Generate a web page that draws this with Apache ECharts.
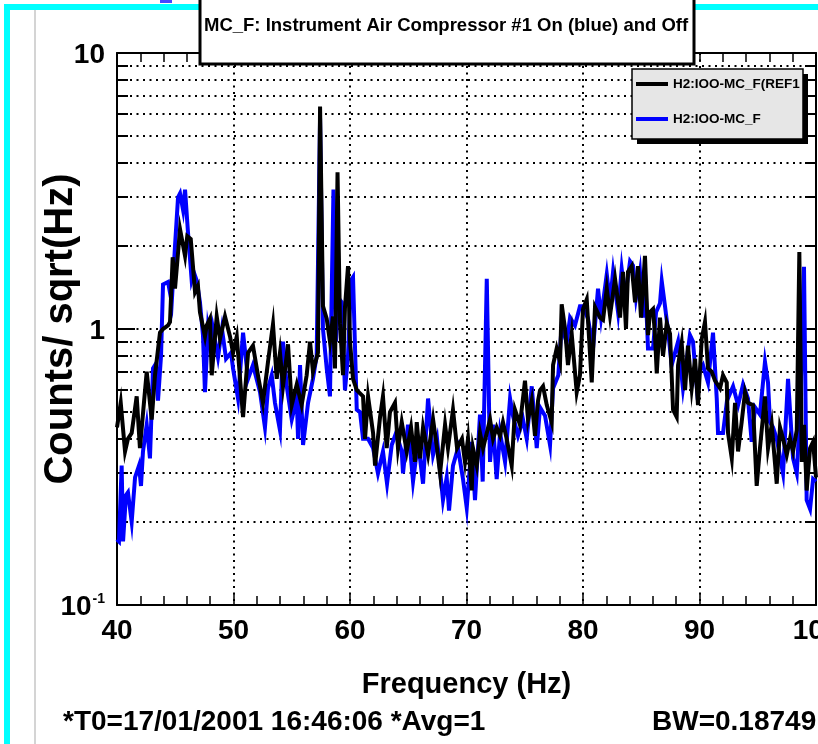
<!DOCTYPE html>
<html>
<head>
<meta charset="utf-8">
<script src="https://cdn.jsdelivr.net/npm/echarts@6/dist/echarts.min.js"></script>
<style>
  html, body { margin: 0; padding: 0; background: #fff; }
  #chart { width: 818px; height: 744px; }
</style>
</head>
<body>
<div id="chart"></div>
<script>
// Reference spectrum (compressor off)
const freqRef = [40.0,40.32,40.69,40.94,41.26,41.69,41.97,42.26,42.55,42.98,
  43.26,43.69,43.95,44.38,44.55,44.78,44.98,45.41,45.84,46.03,
  46.33,46.70,46.95,47.12,47.55,47.70,47.98,48.13,48.56,48.84,
  49.27,49.70,49.96,50.28,50.82,51.25,51.67,52.10,52.53,52.96,
  53.39,53.71,53.99,54.25,54.68,55.00,55.43,55.85,56.28,56.57,
  56.82,57.25,57.43,57.68,58.00,58.28,58.54,58.71,58.93,59.14,
  59.40,59.57,59.83,60.00,60.26,60.58,61.12,61.29,61.55,61.98,
  62.15,62.58,62.83,63.15,63.43,63.86,64.12,64.44,64.87,65.24,
  65.58,65.73,66.01,66.27,66.70,67.13,67.47,67.73,68.16,68.41,
  68.84,69.19,69.61,69.87,70.13,70.45,70.56,70.88,71.16,71.42,
  71.74,72.02,72.28,72.59,72.88,73.13,73.45,73.88,74.16,74.59,
  75.02,75.28,75.60,75.88,76.14,76.31,76.57,76.89,77.31,77.43,
  77.74,78.03,78.17,78.46,78.71,79.03,79.46,79.74,80.00,80.32,
  80.75,81.03,81.46,81.72,82.04,82.32,82.75,83.18,83.43,83.69,
  83.86,84.18,84.47,84.72,84.98,85.32,85.58,85.75,86.01,86.18,
  86.33,86.61,86.87,87.19,87.47,87.73,88.04,88.16,88.47,88.76,
  89.01,89.33,89.62,89.87,90.19,90.47,90.73,91.05,91.33,91.76,
  92.02,92.34,92.45,92.77,93.05,93.31,93.62,93.91,94.16,94.59,
  94.91,95.19,95.62,95.88,96.20,96.63,96.91,97.17,97.49,97.77,
  98.03,98.35,98.57,98.78,98.97,99.20,99.49,99.75,100.0];
const ampRef = [0.44,0.54,0.36,0.40,0.42,0.57,0.37,0.51,0.70,0.47,
  0.68,0.97,1.00,1.03,1.06,1.82,1.40,2.30,1.84,2.17,
  2.12,1.36,1.43,1.15,0.94,1.03,1.09,0.68,1.11,0.92,
  1.11,0.94,0.82,0.94,0.48,0.82,0.87,0.68,0.54,0.76,
  1.04,0.66,0.82,0.62,0.88,0.53,0.63,0.53,0.68,0.90,
  0.70,0.82,6.4,1.21,1.09,0.90,1.11,0.72,3.7,1.05,
  0.68,1.20,1.69,0.90,0.66,0.60,0.57,0.40,0.57,0.42,
  0.32,0.48,0.57,0.37,0.50,0.54,0.37,0.46,0.36,0.44,
  0.33,0.46,0.34,0.44,0.35,0.47,0.37,0.30,0.45,0.37,
  0.51,0.37,0.40,0.33,0.40,0.26,0.37,0.32,0.42,0.37,
  0.42,0.47,0.40,0.44,0.41,0.46,0.40,0.32,0.51,0.45,
  0.65,0.47,0.55,0.41,0.55,0.60,0.62,0.53,0.46,0.74,
  0.85,0.76,1.23,1.00,0.74,0.96,0.59,0.68,1.18,1.28,
  0.64,1.20,1.10,1.08,1.40,1.12,1.52,1.10,1.61,1.00,
  1.61,1.69,1.25,1.69,1.10,1.84,0.95,1.15,1.18,0.95,
  0.69,1.10,0.80,1.05,0.96,0.51,0.48,0.74,0.89,0.60,
  0.87,0.61,0.78,0.53,0.92,1.06,0.72,0.70,0.65,0.61,
  0.68,0.64,0.42,0.34,0.54,0.36,0.46,0.59,0.54,0.53,
  0.27,0.37,0.57,0.37,0.45,0.275,0.44,0.40,0.35,0.40,
  0.36,0.43,1.90,0.33,0.45,0.26,0.37,0.39,0.29];

// Current spectrum (compressor on)
const freqOn = [40.0,40.17,40.40,40.52,40.77,40.94,41.26,41.55,41.89,42.06,
  42.23,42.55,42.83,43.09,43.35,43.52,43.78,43.95,44.38,44.70,
  44.98,45.24,45.41,45.67,45.84,46.09,46.41,46.61,46.84,47.12,
  47.38,47.55,47.81,48.07,48.24,48.67,49.01,49.36,49.79,49.96,
  50.39,50.82,51.25,51.67,52.28,52.70,52.96,53.28,53.56,53.99,
  54.25,54.57,55.00,55.43,55.54,55.71,55.97,56.40,56.82,57.14,
  57.43,57.68,58.00,58.28,58.58,58.80,58.97,59.29,59.57,59.83,
  60.09,60.26,60.58,60.86,61.12,61.55,61.98,62.40,62.83,63.18,
  63.58,63.95,64.44,64.55,64.98,65.41,65.84,66.27,66.70,67.13,
  67.47,67.98,68.30,68.50,68.84,69.27,69.70,70.02,70.45,70.73,
  71.16,71.39,71.74,72.02,72.28,72.59,72.88,73.31,73.74,73.99,
  74.42,74.85,75.17,75.60,76.03,76.31,76.74,77.17,77.43,77.88,
  78.17,78.60,78.89,79.31,79.74,80.00,80.43,80.86,81.29,81.55,
  82.04,82.32,82.58,83.01,83.32,83.61,84.04,84.29,84.55,84.89,
  85.15,85.32,85.58,86.01,86.27,86.61,86.76,87.04,87.32,87.61,
  88.16,88.58,89.18,89.44,89.76,90.04,90.30,90.73,91.16,91.48,
  91.59,92.02,92.36,92.88,93.31,93.74,94.16,94.48,94.77,95.19,
  95.62,95.88,96.05,96.31,96.63,97.17,97.60,98.03,98.35,98.63,
  98.97,99.20,99.49,99.75,100.0];
const ampOn = [0.173,0.17,0.32,0.17,0.25,0.256,0.20,0.29,0.32,0.27,
  0.36,0.45,0.34,0.72,0.75,0.55,0.80,1.45,1.48,1.25,
  2.00,3.00,3.10,2.70,3.20,2.25,1.50,1.60,1.50,1.25,
  0.95,0.59,1.00,0.85,1.00,0.79,1.00,0.78,0.82,0.72,
  0.56,0.97,0.66,0.74,0.59,0.44,0.61,0.68,0.54,0.43,
  0.90,0.62,0.47,0.56,0.40,0.74,0.38,0.54,0.66,0.80,
  5.8,1.00,0.72,0.57,3.20,0.90,1.30,1.25,0.60,0.80,
  1.50,1.54,0.51,0.50,0.40,0.40,0.37,0.30,0.36,0.275,
  0.38,0.42,0.36,0.30,0.45,0.28,0.39,0.275,0.56,0.35,
  0.40,0.24,0.29,0.22,0.32,0.37,0.286,0.225,0.39,0.24,
  0.49,0.28,1.52,0.33,0.45,0.286,0.42,0.33,0.56,0.485,
  0.41,0.47,0.40,0.62,0.37,0.52,0.485,0.38,0.61,0.68,
  1.03,0.89,1.10,1.03,1.21,1.21,1.09,0.85,1.40,1.10,
  1.58,1.25,1.61,1.15,1.65,1.30,1.76,1.70,1.30,1.61,
  1.10,1.60,0.85,0.85,1.15,1.24,1.49,1.21,0.97,0.74,
  0.90,0.61,0.95,0.90,0.62,0.71,0.74,0.64,0.97,0.56,
  0.42,0.42,0.55,0.62,0.53,0.63,0.56,0.39,0.52,0.49,
  0.76,0.64,0.46,0.44,0.40,0.30,0.66,0.34,0.30,0.50,
  1.68,0.24,0.223,0.286,0.28];

// Axis ranges and the intermediate decade lines of the log axis
const freqRange = [40, 100];
const ampRange = [0.1, 10];
const ampMinorTicks = [0.2,0.3,0.4,0.5,0.6,0.7,0.8,0.9,2,3,4,5,6,7,8,9];

const nameRef = 'H2:IOO-MC_F(REF1';
const nameOn = 'H2:IOO-MC_F';
const titleText = 'MC_F: Instrument Air Compressor #1 On (blue) and Off';
const footLeft = '*T0=17/01/2001 16:46:06 *Avg=1';
const footRight = 'BW=0.18749';

const FONT = "'Liberation Sans', Arial, Helvetica, sans-serif";
const dotted = [2, 4.5];

const zip = (xs, ys) => xs.map((x, i) => [x, ys[i]]);

const chart = echarts.init(document.getElementById('chart'), null, { renderer: 'canvas' });

const frameLine = { show: true, onZero: false, lineStyle: { color: '#000', width: 2 } };

const option = {
  animation: false,
  backgroundColor: '#fff',
  grid: { left: 117, right: 2, top: 53, bottom: 139, containLabel: false, outerBoundsMode: 'none' },
  xAxis: [
    {
      type: 'value', min: freqRange[0], max: freqRange[1], interval: 10, position: 'bottom',
      axisLine: frameLine,
      axisTick: { show: true, inside: true, length: 11, lineStyle: { color: '#000', width: 1.5 } },
      minorTick: { show: true, splitNumber: 5, length: 9, lineStyle: { color: '#000', width: 1.5 } },
      axisLabel: { color: '#000', fontFamily: FONT, fontWeight: 'bold', fontSize: 28, margin: 12,
                   hideOverlap: false },
      splitLine: { show: true, lineStyle: { color: '#000', width: 2, type: dotted } },
      name: 'Frequency (Hz)', nameLocation: 'middle', nameGap: 65, nameMoveOverlap: false,
      nameTextStyle: { color: '#000', fontFamily: FONT, fontWeight: 'bold', fontSize: 29 }
    },
    {
      type: 'value', min: freqRange[0], max: freqRange[1], interval: 10, position: 'top',
      axisLine: frameLine,
      axisTick: { show: true, inside: true, length: 9, lineStyle: { color: '#000', width: 1.5 } },
      minorTick: { show: true, splitNumber: 5, length: 9, lineStyle: { color: '#000', width: 1.5 } },
      axisLabel: { show: false },
      splitLine: { show: false }
    }
  ],
  yAxis: [
    {
      type: 'log', logBase: 10, min: ampRange[0], max: ampRange[1], position: 'left',
      axisLine: frameLine,
      axisTick: { show: true, inside: true, length: 18, lineStyle: { color: '#000', width: 2 } },
      axisLabel: {
        color: '#000', fontFamily: FONT, fontWeight: 'bold', fontSize: 28, margin: 12,
        padding: [5, 0, 0, 0],
        formatter: (v) => {
          const e = Math.round(Math.log10(v));
          if (e === 0) return '{n|1}';
          if (e === 1) return '{n|10}';
          return '{n|10}{s|' + e + '}';
        },
        rich: {
          n: { fontFamily: FONT, fontWeight: 'bold', fontSize: 28, color: '#000', lineHeight: 30 },
          s: { fontFamily: FONT, fontWeight: 'bold', fontSize: 14, color: '#000', verticalAlign: 'top', lineHeight: 30, padding: [0, 0, 12, 1] }
        }
      },
      splitLine: { show: true, lineStyle: { color: '#000', width: 2, type: dotted } },
      name: 'Counts/ sqrt(Hz)', nameLocation: 'middle', nameGap: 36, nameRotate: 90, nameMoveOverlap: false,
      nameTextStyle: { color: '#000', fontFamily: FONT, fontWeight: 'bold', fontSize: 40 }
    },
    {
      type: 'log', logBase: 10, min: ampRange[0], max: ampRange[1], position: 'right',
      axisLine: frameLine,
      axisTick: { show: true, inside: true, length: 11, lineStyle: { color: '#000', width: 2 } },
      axisLabel: { show: false },
      splitLine: { show: false }
    }
  ],
  legend: {
    data: [nameRef, nameOn],
    orient: 'vertical', left: 636, top: 77, padding: 0,
    itemWidth: 32, itemHeight: 4, itemGap: 21, icon: 'rect',
    textStyle: { color: '#000', fontFamily: FONT, fontWeight: 'bold', fontSize: 13.5 },
    z: 8
  },
  series: [
    {
      // dotted grid and inner ticks at 2..9 of every decade
      type: 'custom', xAxisIndex: 0, yAxisIndex: 0, z: 1, silent: true,
      data: ampMinorTicks.map(v => [freqRange[0], v]),
      renderItem: (params, api) => {
        const v = api.value(1);
        const pl = api.coord([freqRange[0], v]);
        const pr = api.coord([freqRange[1], v]);
        const y = Math.round(pl[1]);
        return {
          type: 'group',
          children: [
            { type: 'line', shape: { x1: pl[0], y1: y, x2: pr[0], y2: y },
              style: { stroke: '#000', lineWidth: 2, lineDash: dotted } },
            { type: 'line', shape: { x1: pl[0], y1: y, x2: pl[0] + 11, y2: y },
              style: { stroke: '#000', lineWidth: 2 } },
            { type: 'line', shape: { x1: pr[0] - 11, y1: y, x2: pr[0], y2: y },
              style: { stroke: '#000', lineWidth: 2 } }
          ]
        };
      }
    },
    {
      name: nameOn, type: 'line', data: zip(freqOn, ampOn),
      showSymbol: false, symbol: 'none', color: '#0000ff', z: 3,
      lineStyle: { color: '#0000ff', width: 4, join: 'miter' }
    },
    {
      name: nameRef, type: 'line', data: zip(freqRef, ampRef),
      showSymbol: false, symbol: 'none', color: '#000000', z: 4,
      lineStyle: { color: '#000000', width: 4, join: 'miter' }
    }
  ],
  graphic: {
    elements: [
      // canvas frame
      { type: 'rect', shape: { x: 4, y: 4, width: 814, height: 6 }, style: { fill: '#00ffff' }, z: 20 },
      { type: 'rect', shape: { x: 4, y: 4, width: 6, height: 740 }, style: { fill: '#00ffff' }, z: 20 },
      { type: 'line', shape: { x1: 35, y1: 10, x2: 35, y2: 744 }, style: { stroke: '#d4d4d4', lineWidth: 2 }, z: 20 },
      { type: 'rect', shape: { x: 160, y: 0, width: 12, height: 3 }, style: { fill: '#4646ff' }, z: 20 },
      { type: 'rect', shape: { x: 478, y: 0, width: 12, height: 3 }, style: { fill: '#4646ff' }, z: 20 },
      // title pave
      { type: 'rect', shape: { x: 200, y: -10, width: 494, height: 74 },
        style: { fill: '#fff', stroke: '#000', lineWidth: 3 }, z: 30 },
      { type: 'text', x: 204, y: 26, z: 31,
        style: { text: titleText, fill: '#000', font: 'bold 18.5px ' + FONT,
                 textAlign: 'left', textVerticalAlign: 'middle', verticalAlign: 'middle' } },
      // legend pave with shadow
      { type: 'rect', shape: { x: 637, y: 74, width: 171, height: 70 }, style: { fill: '#000' }, z: 5 },
      { type: 'rect', shape: { x: 632, y: 69, width: 171, height: 70 },
        style: { fill: '#e6e6e6', stroke: '#000', lineWidth: 1.5 }, z: 6 },
      // footer
      { type: 'text', x: 63, y: 722, z: 20,
        style: { text: footLeft, fill: '#000', font: 'bold 28px ' + FONT,
                 textAlign: 'left', textVerticalAlign: 'middle', verticalAlign: 'middle' } },
      { type: 'text', x: 652, y: 722, z: 20,
        style: { text: footRight, fill: '#000', font: 'bold 28px ' + FONT,
                 textAlign: 'left', textVerticalAlign: 'middle', verticalAlign: 'middle' } }
    ]
  }
};

chart.setOption(option);
</script>
</body>
</html>
